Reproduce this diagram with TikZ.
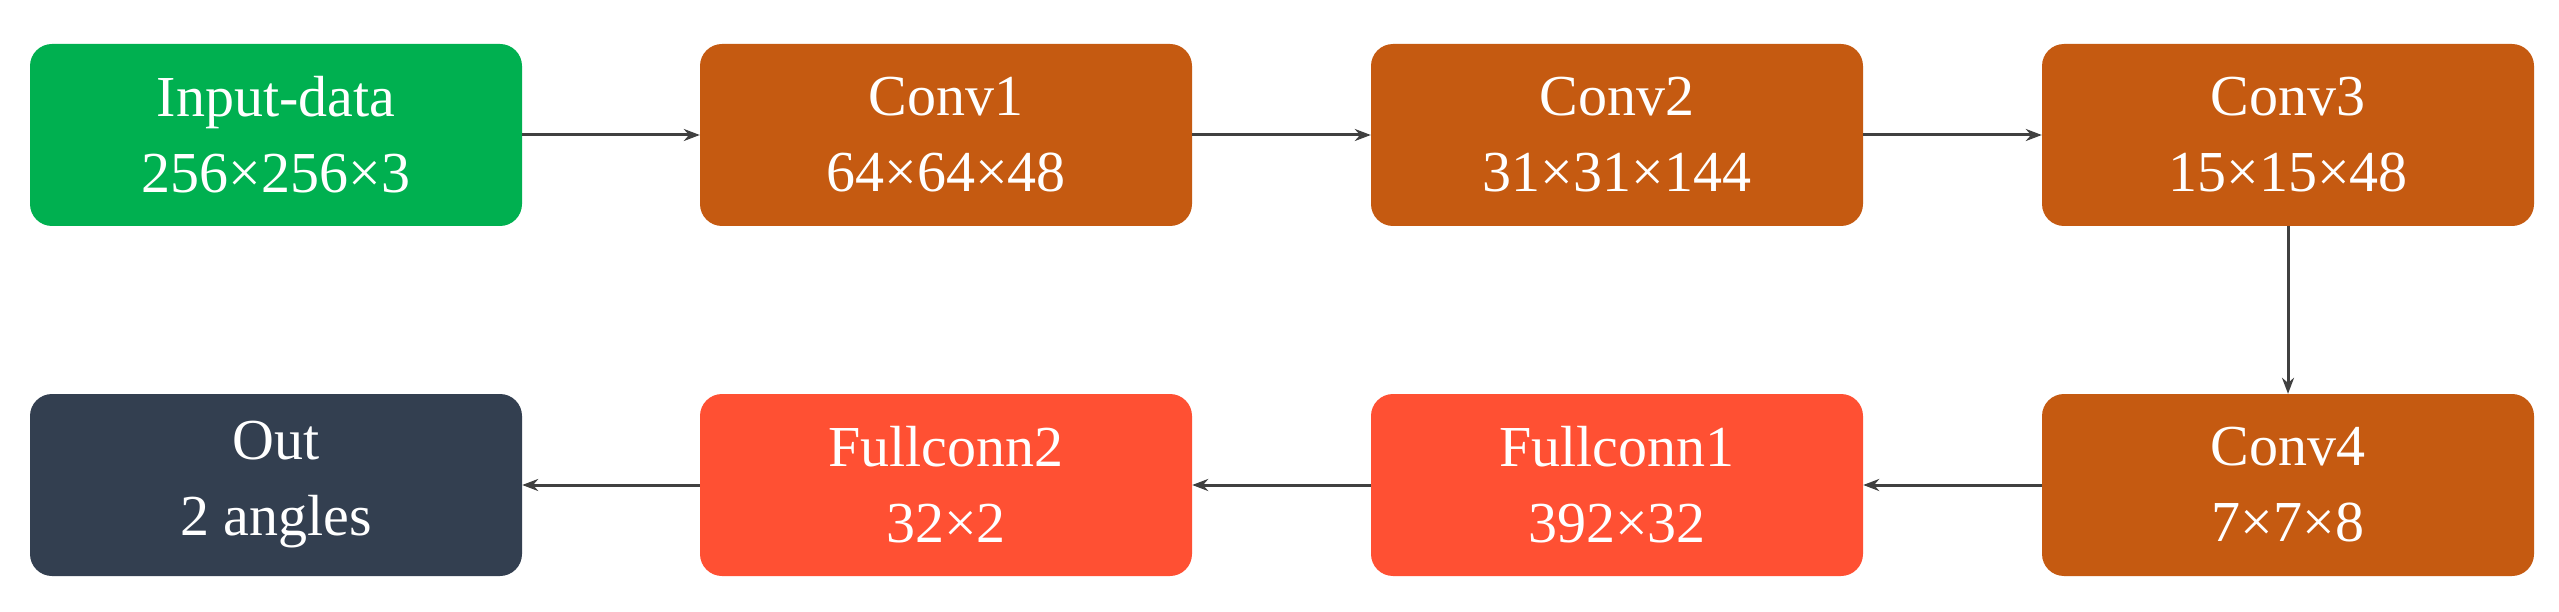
\documentclass[tikz,border=0pt]{standalone}
\usepackage{fontspec}
\setmainfont{Liberation Serif}
\usetikzlibrary{arrows.meta}
\definecolor{cgreen}{HTML}{00B050}
\definecolor{corange}{HTML}{C55A11}
\definecolor{cred}{HTML}{FF5033}
\definecolor{cdark}{HTML}{333F50}
\definecolor{carrow}{HTML}{404040}
\begin{document}
\begin{tikzpicture}[x=1pt,y=-1pt,
  blk/.style={rounded corners=22pt,minimum width=492pt,minimum height=182pt,text=white,align=center,font=\fontsize{58}{76}\selectfont,inner sep=0pt},
  conn/.style={draw=carrow,line width=3pt,-{Stealth[length=16pt,width=12pt]}}]
\fill[white] (0,0) rectangle (2559,612);
\useasboundingbox (0,0) rectangle (2559,612);
\node[blk,fill=cgreen] (in) at (276,135) {Input-data\\256×256×3};
\node[blk,fill=corange] (c1) at (946,135) {Conv1\\64×64×48};
\node[blk,fill=corange] (c2) at (1617,135) {Conv2\\31×31×144};
\node[blk,fill=corange] (c3) at (2288,135) {Conv3\\15×15×48};
\node[blk,fill=corange] (c4) at (2288,485) {Conv4\\7×7×8};
\node[blk,fill=cred] (f1) at (1617,485) {Fullconn1\\392×32};
\node[blk,fill=cred] (f2) at (946,485) {Fullconn2\\32×2};
\node[blk,fill=cdark] (out) at (276,485) {Out\\2 angles};
\draw[conn] (in) -- (c1);
\draw[conn] (c1) -- (c2);
\draw[conn] (c2) -- (c3);
\draw[conn] (c3) -- (c4);
\draw[conn] (c4) -- (f1);
\draw[conn] (f1) -- (f2);
\draw[conn] (f2) -- (out);
\end{tikzpicture}
\end{document}
